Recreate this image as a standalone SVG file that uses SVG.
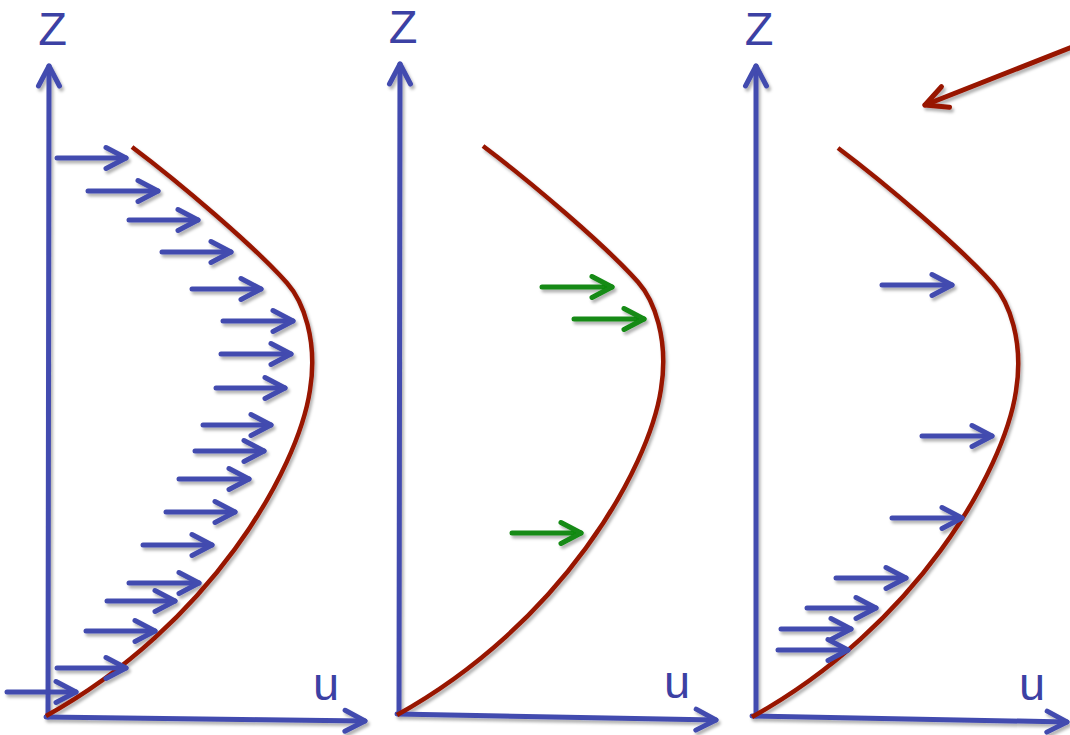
<svg xmlns="http://www.w3.org/2000/svg" xmlns:xlink="http://www.w3.org/1999/xlink" width="1070" height="735" viewBox="0 0 1070 735">
  <style>
    .axis { fill: none; stroke: #434BAF; stroke-width: 5; stroke-linecap: round; marker-end: url(#headBlue); }
    .barb { fill: none; stroke: #434BAF; stroke-width: 5; stroke-linecap: round; marker-end: url(#headBlue); }
    .barbg { fill: none; stroke: #128A12; stroke-width: 5; stroke-linecap: round; marker-end: url(#headGreen); }
    .prof { fill: none; stroke: #981400; stroke-width: 4.5; stroke-linecap: butt; }
    .lbl { font-family: "Liberation Sans", Arial, sans-serif; font-size: 47px; fill: #3C41A4; text-anchor: middle; }
    .shadow { filter: url(#sh); }
  </style>
  <defs>
    <filter id="sh" x="-10%" y="-10%" width="130%" height="130%">
      <feDropShadow dx="2" dy="3" stdDeviation="1.8" flood-color="#000" flood-opacity="0.3"/>
    </filter>
    <marker id="headBlue" markerUnits="userSpaceOnUse" viewBox="-26 -16 32 32" markerWidth="32" markerHeight="32" refX="0" refY="0" orient="auto" overflow="visible">
      <path d="M-20,-10.5 L0,0 L-20,10.5" fill="none" stroke="#434BAF" stroke-width="5" stroke-linecap="round" stroke-linejoin="round"/>
    </marker>
    <marker id="headGreen" markerUnits="userSpaceOnUse" viewBox="-26 -16 32 32" markerWidth="32" markerHeight="32" refX="0" refY="0" orient="auto" overflow="visible">
      <path d="M-20,-10.5 L0,0 L-20,10.5" fill="none" stroke="#128A12" stroke-width="5" stroke-linecap="round" stroke-linejoin="round"/>
    </marker>
    <marker id="headRed" markerUnits="userSpaceOnUse" viewBox="-26 -16 32 32" markerWidth="32" markerHeight="32" refX="0" refY="0" orient="auto" overflow="visible">
      <path d="M-22,-11 L0,0 L-22,11" fill="none" stroke="#981400" stroke-width="5" stroke-linecap="round" stroke-linejoin="round"/>
    </marker>
    <path id="profile" d="M132,147 C180,183 255,247 287,283 C303,301 318,340 310,390 C298,470 210,625 46,716"/>
  </defs>

  <rect width="1070" height="735" fill="#ffffff"/>

  <!-- Panel 1 -->
  <g id="panel1">
    <g class="shadow">
      <path class="axis" d="M48,717 L49,66"/>
      <path class="axis" d="M46,717 L365,721"/>
      <use xlink:href="#profile" href="#profile" class="prof"/>
      <g id="panel1-arrows">
        <path class="barb" d="M57,158 L126,158"/>
        <path class="barb" d="M88,191 L158,191"/>
        <path class="barb" d="M129,220 L198,220"/>
        <path class="barb" d="M162,252 L231,252"/>
        <path class="barb" d="M192,289 L261,289"/>
        <path class="barb" d="M223,321 L293,321"/>
        <path class="barb" d="M221,354 L291,354"/>
        <path class="barb" d="M216,388 L285,388"/>
        <path class="barb" d="M203,425 L271,425"/>
        <path class="barb" d="M195,451 L264,451"/>
        <path class="barb" d="M179,479 L249,479"/>
        <path class="barb" d="M166,512 L235,512"/>
        <path class="barb" d="M143,545 L212,545"/>
        <path class="barb" d="M129,583 L199,583"/>
        <path class="barb" d="M107,601 L175,601"/>
        <path class="barb" d="M86,631 L155,631"/>
        <path class="barb" d="M57,668 L126,668"/>
        <path class="barb" d="M7,692 L76,692"/>
      </g>
    </g>
    <text class="lbl" x="52.5" y="45">Z</text>
    <text class="lbl" x="326" y="700">u</text>
  </g>

  <!-- Panel 2 -->
  <g id="panel2">
    <g class="shadow">
      <path class="axis" d="M399,714 L400,64"/>
      <path class="axis" d="M397,714 L716,720"/>
      <use xlink:href="#profile" href="#profile" class="prof" transform="translate(351,-1)"/>
      <g id="panel2-arrows">
        <path class="barbg" d="M542,287 L612,287"/>
        <path class="barbg" d="M574,319 L644,319"/>
        <path class="barbg" d="M512,533 L581,533"/>
      </g>
    </g>
    <text class="lbl" x="403" y="43">Z</text>
    <text class="lbl" x="677" y="698">u</text>
  </g>

  <!-- Panel 3 -->
  <g id="panel3">
    <g class="shadow">
      <path class="axis" d="M756,716 L756,66"/>
      <path class="axis" d="M752,716 L1067,722"/>
      <use xlink:href="#profile" href="#profile" class="prof" transform="translate(706,1)"/>
      <g id="panel3-arrows">
        <path class="barb" d="M882,285 L952,285"/>
        <path class="barb" d="M922,436 L992,436"/>
        <path class="barb" d="M892,518 L962,518"/>
        <path class="barb" d="M836,578 L906,578"/>
        <path class="barb" d="M807,608 L876,608"/>
        <path class="barb" d="M781,629 L851,629"/>
        <path class="barb" d="M778,650 L848,650"/>
      </g>
    </g>
    <text class="lbl" x="759" y="45">Z</text>
    <text class="lbl" x="1032" y="700">u</text>
  </g>

  <!-- Pointer arrow -->
  <g id="connectors" class="shadow">
    <path d="M1085,42 L925,105" fill="none" stroke="#981400" stroke-width="5" stroke-linecap="round" marker-end="url(#headRed)"/>
  </g>
</svg>
